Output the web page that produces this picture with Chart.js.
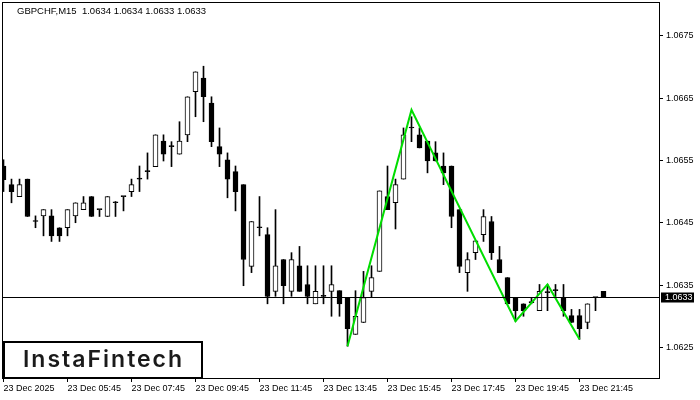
<!DOCTYPE html>
<html>
<head>
<meta charset="utf-8">
<script src="https://cdn.jsdelivr.net/npm/chart.js@4.4.1/dist/chart.umd.min.js"></script>
<style>html,body{margin:0;padding:0;background:#fff;}canvas{display:block;}</style>
</head>
<body>
<canvas id="c" width="700" height="400"></canvas>
<script>
const symbolTitle = "GBPCHF,M15  1.0634 1.0634 1.0633 1.0633";
const opens = [1.06541,1.06511,1.06492,1.06520,1.06452,1.06461,1.06461,1.06442,1.06442,1.06461,
  1.06471,1.06492,1.06471,1.06460,1.06482,1.06492,1.06500,1.06520,1.06532,1.06540,
  1.06581,1.06572,1.06560,1.06591,1.06660,1.06682,1.06642,1.06572,1.06551,1.06532,
  1.06511,1.06380,1.06442,1.06431,1.06340,1.06391,1.06340,1.06381,1.06351,1.06320,
  1.06332,1.06340,1.06341,1.06330,1.06271,1.06290,1.06340,1.06372,1.06492,1.06482,
  1.06520,1.06602,1.06591,1.06581,1.06562,1.06541,1.06541,1.06471,1.06370,1.06402,
  1.06431,1.06452,1.06391,1.06362,1.06330,1.06320,1.06322,1.06309,1.06338,1.06341,
  1.06330,1.06301,1.06301,1.06290,1.06330,1.06340];
const highs = [1.06551,1.06520,1.06520,1.06520,1.06461,1.06471,1.06471,1.06442,1.06471,1.06482,
  1.06492,1.06492,1.06471,1.06492,1.06484,1.06492,1.06520,1.06541,1.06562,1.06591,
  1.06591,1.06580,1.06612,1.06652,1.06692,1.06701,1.06652,1.06602,1.06562,1.06541,
  1.06511,1.06452,1.06492,1.06442,1.06471,1.06391,1.06402,1.06412,1.06381,1.06381,
  1.06381,1.06381,1.06341,1.06330,1.06341,1.06372,1.06381,1.06501,1.06541,1.06520,
  1.06602,1.06620,1.06602,1.06581,1.06580,1.06562,1.06541,1.06471,1.06402,1.06421,
  1.06471,1.06460,1.06412,1.06362,1.06330,1.06320,1.06330,1.06351,1.06351,1.06351,
  1.06351,1.06311,1.06311,1.06320,1.06330,1.06340];
const lows = [1.06500,1.06482,1.06492,1.06460,1.06442,1.06429,1.06420,1.06420,1.06429,1.06450,
  1.06471,1.06460,1.06460,1.06460,1.06460,1.06469,1.06492,1.06500,1.06520,1.06540,
  1.06549,1.06540,1.06560,1.06580,1.06620,1.06612,1.06572,1.06540,1.06490,1.06469,
  1.06349,1.06370,1.06429,1.06320,1.06332,1.06320,1.06332,1.06340,1.06320,1.06320,
  1.06320,1.06300,1.06300,1.06252,1.06271,1.06290,1.06330,1.06372,1.06471,1.06440,
  1.06520,1.06580,1.06570,1.06530,1.06549,1.06511,1.06442,1.06370,1.06340,1.06391,
  1.06420,1.06391,1.06370,1.06320,1.06292,1.06300,1.06320,1.06309,1.06309,1.06330,
  1.06300,1.06290,1.06263,1.06280,1.06309,1.06330];
const closes = [1.06519,1.06500,1.06511,1.06460,1.06452,1.06471,1.06429,1.06429,1.06471,1.06482,
  1.06482,1.06460,1.06471,1.06492,1.06482,1.06492,1.06511,1.06520,1.06532,1.06591,
  1.06560,1.06572,1.06581,1.06652,1.06692,1.06652,1.06580,1.06560,1.06520,1.06500,
  1.06391,1.06452,1.06442,1.06332,1.06381,1.06349,1.06391,1.06340,1.06332,1.06340,
  1.06332,1.06351,1.06320,1.06280,1.06300,1.06330,1.06362,1.06501,1.06471,1.06511,
  1.06591,1.06602,1.06570,1.06549,1.06549,1.06530,1.06460,1.06380,1.06391,1.06421,
  1.06460,1.06402,1.06370,1.06320,1.06309,1.06309,1.06322,1.06340,1.06338,1.06341,
  1.06309,1.06290,1.06280,1.06320,1.06330,1.06330];
const timeLabels = ["23 Dec 2025","23 Dec 05:45","23 Dec 07:45","23 Dec 09:45","23 Dec 11:45",
  "23 Dec 13:45","23 Dec 15:45","23 Dec 17:45","23 Dec 19:45","23 Dec 21:45"];
const barsPerTimeLabel = 8;
const priceTicks = [1.0625,1.0635,1.0645,1.0655,1.0665,1.0675];
const bidPrice = 1.0633;
const patternIndex = [43,51,64,68,72];
const patternPrice = [1.06252,1.06631,1.06292,1.06351,1.06263];
const logoText = "InstaFintech";

const idx = opens.map((_, i) => i);
const bull = idx.map(i => closes[i] > opens[i]);
const wickData = idx.map(i => ({x: i, y: [lows[i], highs[i]]}));
const bodyData = idx.map(i => ({x: i, y: [Math.min(opens[i], closes[i]), Math.max(opens[i], closes[i])]}));
const patternData = patternIndex.map((k, i) => ({x: k, y: patternPrice[i]}));

const FONT = "Liberation Sans";

const overlay = {
  id: 'overlay',
  beforeDraw(chart) {
    const c = chart.ctx;
    c.save();
    c.fillStyle = '#fff';
    c.fillRect(0, 0, chart.width, chart.height);
    c.restore();
  },
  afterDatasetsDraw(chart) {
    const c = chart.ctx;
    const a = chart.chartArea;
    const ys = chart.scales.y;
    c.save();
    const yb = Math.round(ys.getPixelForValue(bidPrice)) - 0.5;
    c.strokeStyle = '#000';
    c.lineWidth = 1;
    c.beginPath();
    c.moveTo(a.left, yb); c.lineTo(a.right, yb);
    c.stroke();
    c.beginPath();
    c.moveTo(2.5, 2); c.lineTo(2.5, 379);
    c.moveTo(2, 2.5); c.lineTo(660, 2.5);
    c.moveTo(659.5, 2); c.lineTo(659.5, 379);
    c.moveTo(2, 378.5); c.lineTo(660, 378.5);
    c.stroke();
    c.restore();
  },
  afterDraw(chart) {
    const c = chart.ctx;
    const ys = chart.scales.y;
    c.save();
    c.fillStyle = '#000';
    c.font = '9.5px "' + FONT + '"';
    c.textBaseline = 'middle';
    c.textAlign = 'left';
    c.fillText(symbolTitle, 17, 11);
    const yb = Math.round(ys.getPixelForValue(bidPrice)) - 0.5;
    c.fillStyle = '#000';
    c.fillRect(661, yb - 5, 33, 10);
    c.fillStyle = '#fff';
    c.font = '9px "' + FONT + '"';
    c.fillText(bidPrice.toFixed(4), 665, yb + 0.5);
    c.fillStyle = '#fff';
    c.fillRect(3, 341, 200, 38);
    c.strokeStyle = '#000';
    c.lineWidth = 2;
    c.strokeRect(4, 342, 198, 36);
    c.fillStyle = '#1a1a1a';
    c.font = '600 23px Inter';
    c.textBaseline = 'alphabetic';
    try { c.letterSpacing = '2px'; } catch (e) {}
    c.fillText(logoText, 23, 367);
    c.restore();
  }
};

new Chart(document.getElementById('c').getContext('2d'), {
  type: 'bar',
  data: {
    datasets: [
      {type: 'line', data: patternData, borderColor: '#00dd00', borderWidth: 2, pointRadius: 0,
       tension: 0, fill: false, order: 0},
      {data: bodyData, backgroundColor: bull.map(b => b ? '#ffffff' : '#000000'), borderColor: '#000',
       borderWidth: 1, borderSkipped: false, barThickness: 5, minBarLength: 1, grouped: false, order: 1},
      {data: wickData, backgroundColor: '#000', borderWidth: 0, barThickness: 1, grouped: false, order: 2}
    ]
  },
  options: {
    responsive: false,
    animation: false,
    devicePixelRatio: 1,
    layout: {padding: {left: 2, top: 2, right: 0, bottom: 0}},
    plugins: {legend: {display: false}, tooltip: {enabled: false}},
    scales: {
      x: {
        type: 'linear', offset: false,
        min: -0.1875, max: 81.9375,
        afterBuildTicks: s => { s.ticks = timeLabels.map((_, i) => ({value: i * barsPerTimeLabel})); },
        afterFit: s => { s.height = 22; s.paddingLeft = 0; s.paddingRight = 0; },
        grid: {display: true, drawOnChartArea: false, drawTicks: true, tickLength: 4, color: '#000', offset: false},
        border: {display: false},
        ticks: {
          autoSkip: false, maxRotation: 0, minRotation: 0, align: 'start', padding: 1,
          color: '#000', font: {family: FONT, size: 9},
          callback: (v, i) => timeLabels[i]
        }
      },
      y: {
        type: 'linear', position: 'right', beginAtZero: false,
        min: 1.06201, max: 1.06804,
        afterBuildTicks: s => { s.ticks = priceTicks.map(v => ({value: v})); },
        afterFit: s => { s.width = 41; s.paddingTop = 0; s.paddingBottom = 0; },
        grid: {display: true, drawOnChartArea: false, drawTicks: true, tickLength: 4, color: '#000'},
        border: {display: false},
        ticks: {
          padding: 3, color: '#000', font: {family: FONT, size: 9},
          callback: v => Number(v).toFixed(4)
        }
      }
    }
  },
  plugins: [overlay]
});
</script>
</body>
</html>
